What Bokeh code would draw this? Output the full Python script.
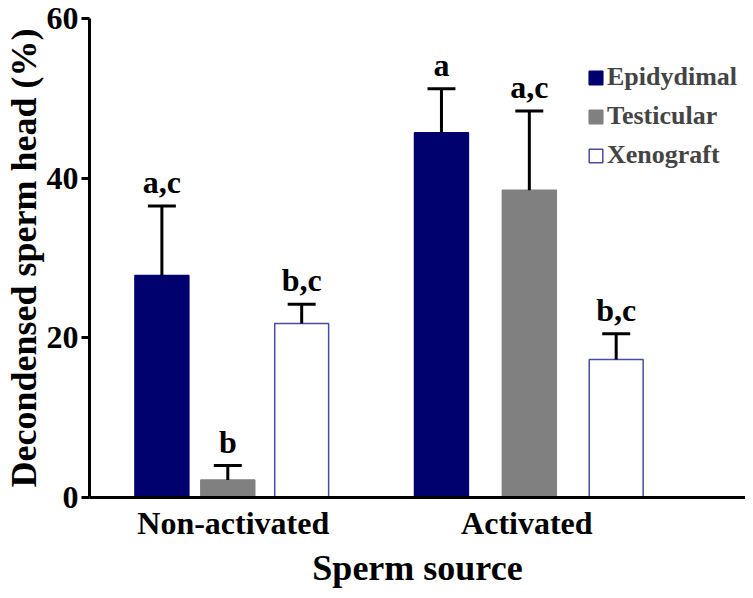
import math
from bokeh.plotting import figure
from bokeh.models import Range1d, FixedTicker, Legend, LegendItem, ColumnDataSource
from bokeh.core.properties import value
from bokeh.embed import file_html
from bokeh.resources import INLINE

# ---- data ----
groups = ["Non-activated", "Activated"]
series = ["Epidydimal", "Testicular", "Xenograft"]
epidydimal_mean = [27.8, 45.7]
testicular_mean = [2.2, 38.5]
xenograft_mean = [21.8, 17.3]
epidydimal_err = [8.7, 5.5]
testicular_err = [1.8, 9.9]
xenograft_err = [2.4, 3.2]
epidydimal_letters = ["a,c", "a"]
testicular_letters = ["b", "a,c"]
xenograft_letters = ["b,c", "b,c"]
y_ticks = [0, 20, 40, 60]

means = [epidydimal_mean, testicular_mean, xenograft_mean]
errs = [epidydimal_err, testicular_err, xenograft_err]
letters = [epidydimal_letters, testicular_letters, xenograft_letters]

# ---- layout / style ----
W, H = 745, 590
LEFT, BOTTOM, TOP = 88, 92, 18
FRAME_W = W - LEFT
group_centers = [144, 438]
bar_offsets = [[-71.5, -5.5, 68.5], [-85.5, 2.5, 89.5]]
bar_width = 54
cap_width = 28
fills = ["#00006e", "#808080", "#ffffff"]
lines = ["#00006e", "#808080", "#4a4aa0"]
FONT = "Liberation Serif"

p = figure(width=W, height=H, output_backend="svg", toolbar_location=None,
           x_range=Range1d(0, FRAME_W), y_range=Range1d(0, 60),
           min_border_left=LEFT, min_border_bottom=BOTTOM, min_border_top=TOP,
           min_border_right=0)
p.outline_line_color = None
p.xgrid.visible = False
p.ygrid.visible = False
p.background_fill_color = "white"

legend_items = []
for si, name in enumerate(series):
    xs = [group_centers[g] + bar_offsets[g][si] for g in range(len(groups))]
    tops = means[si]
    uppers = [m + e for m, e in zip(means[si], errs[si])]
    src = ColumnDataSource(dict(x=xs, top=tops, upper=uppers,
                                cap0=[x - cap_width / 2 for x in xs],
                                cap1=[x + cap_width / 2 for x in xs],
                                lab=letters[si]))
    r = p.vbar(x="x", top="top", bottom=0, width=bar_width, source=src,
               fill_color=fills[si], line_color=lines[si], line_width=1.5)
    p.segment(x0="x", y0="top", x1="x", y1="upper", source=src,
              line_color="black", line_width=3)
    p.segment(x0="cap0", y0="upper", x1="cap1", y1="upper", source=src,
              line_color="black", line_width=3)
    p.text(x="x", y="upper", text="lab", source=src, text_align="center",
           text_baseline="bottom", y_offset=-6,
           text_font=value(FONT), text_font_style="bold",
           text_font_size="32px", text_color="black")
    legend_items.append(LegendItem(label=name, renderers=[r]))

# axes
for ax in (p.xaxis, p.yaxis):
    ax.axis_line_width = 3
    ax.axis_line_color = "black"
    ax.minor_tick_line_color = None
    ax.major_label_text_font = FONT
    ax.major_label_text_font_style = "bold"
    ax.major_label_text_font_size = "32px"
    ax.major_label_text_color = "black"
    ax.axis_label_text_font = FONT
    ax.axis_label_text_font_style = "bold"
    ax.axis_label_text_font_size = "36px"
    ax.axis_label_text_color = "black"

p.yaxis.ticker = FixedTicker(ticks=y_ticks)
p.yaxis.major_tick_out = 8
p.yaxis.major_tick_in = 0
p.yaxis.major_tick_line_width = 3
p.yaxis.major_tick_line_color = "black"
p.yaxis.major_label_standoff = 3
p.yaxis.axis_label = "Decondensed sperm head (%)"
p.yaxis.axis_label_standoff = 0

p.xaxis.ticker = FixedTicker(ticks=group_centers)
p.xaxis.major_label_overrides = {c: g for c, g in zip(group_centers, groups)}
p.xaxis.major_tick_line_color = None
p.xaxis.major_tick_out = 0
p.xaxis.major_label_standoff = 7
p.xaxis.axis_label = "Sperm source"
p.xaxis.axis_label_standoff = 4

legend = Legend(items=legend_items, location=(498, 327), orientation="vertical",
                glyph_width=17, glyph_height=17, label_standoff=3, spacing=9,
                padding=0, margin=0, border_line_alpha=0, background_fill_alpha=0,
                label_text_font=FONT, label_text_font_style="bold",
                label_text_font_size="26px")
p.add_layout(legend)

open("out.html", "w").write(file_html(p, INLINE))
